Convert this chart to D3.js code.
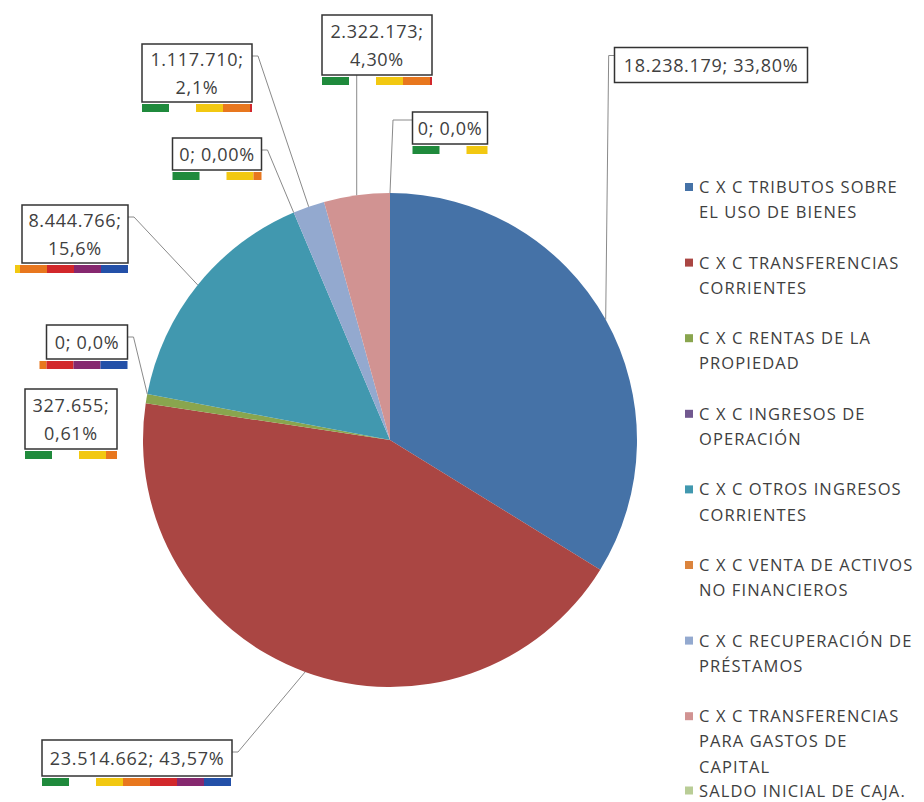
<!DOCTYPE html>
<html>
<head>
<meta charset="utf-8">
<script src="https://cdn.jsdelivr.net/npm/d3@7"></script>
<style>
body { margin: 0; background: #fff; }
text { font-family: "Open Sans", sans-serif; fill: #404040; }
</style>
</head>
<body>
<svg id="pie-chart" width="924" height="802"></svg>
<script>
// legend names, broken where the chart breaks them
const categories = [
    "C X C TRIBUTOS SOBRE\nEL USO DE BIENES",
    "C X C TRANSFERENCIAS\nCORRIENTES",
    "C X C RENTAS DE LA\nPROPIEDAD",
    "C X C INGRESOS DE\nOPERACIÓN",
    "C X C OTROS INGRESOS\nCORRIENTES",
    "C X C VENTA DE ACTIVOS\nNO FINANCIEROS",
    "C X C RECUPERACIÓN DE\nPRÉSTAMOS",
    "C X C TRANSFERENCIAS\nPARA GASTOS DE\nCAPITAL",
    "SALDO INICIAL DE CAJA."
];
const values = [18238179, 23514662, 327655, 0, 8444766, 0, 1117710, 2322173, 0];
const pctLabels = ["33,80%", "43,57%", "0,61%", "0,0%", "15,6%", "0,00%", "2,1%", "4,30%", "0,0%"];
const colors = ["#4572A7", "#AA4643", "#89A54E", "#71588F", "#4198AF", "#DB843D", "#93A9CF", "#D19392", "#B9CD96"];

const width = 924, height = 802;
const cx = 390, cy = 440, radius = 247;

// where Excel put each data label box (centre, size), how it breaks, where the leader leaves
const labelLayout = [
    {x: 711, y: 65, w: 193, h: 35, wrap: false, leader: "left", strip: "none"},
    {x: 137, y: 758, w: 190, h: 36, wrap: false, leader: "right", strip: "left"},
    {x: 71, y: 419, w: 92, h: 60, wrap: true, leader: "none", strip: "left"},
    {x: 87, y: 342, w: 81, h: 34, wrap: false, leader: "right", strip: "right"},
    {x: 75, y: 234, w: 106, h: 58, wrap: true, leader: "right", strip: "right"},
    {x: 217, y: 154, w: 89, h: 32, wrap: false, leader: "right", strip: "left"},
    {x: 197, y: 73, w: 110, h: 58, wrap: true, leader: "right", strip: "left"},
    {x: 377, y: 45, w: 110, h: 60, wrap: true, leader: "bottom", strip: "left"},
    {x: 450, y: 128, w: 75, h: 32, wrap: false, leader: "left", strip: "left"}
];
const stripColors = ["#1F8A3C", null, "#F2C811", "#E8771E", "#D2282B", "#86286F", "#2350A8"];

const fmt = d3.formatLocale({decimal: ",", thousands: ".", grouping: [3], currency: ["", ""]}).format(",d");

const svg = d3.select("#pie-chart");
const g = svg.append("g").attr("transform", `translate(${cx},${cy})`);

const pie = d3.pie().sort(null).value(d => d);
const arcs = pie(values);
const arc = d3.arc().innerRadius(0).outerRadius(radius);

g.selectAll("path.slice")
    .data(arcs)
    .join("path")
    .attr("class", "slice")
    .attr("fill", (d, i) => colors[i])
    .attr("d", arc);

// leader lines
const edgePoint = d => {
    const a = (d.startAngle + d.endAngle) / 2;
    return [cx + radius * Math.sin(a), cy - radius * Math.cos(a)];
};
arcs.forEach((d, i) => {
    const L = labelLayout[i];
    if (L.leader === "none") return;
    const p = edgePoint(d);
    let pts;
    if (L.leader === "left") {
        const ax = L.x - L.w / 2, ay = L.y - L.h / 2 + 8;
        pts = [[ax, ay], [p[0] + 3, ay], p];
    } else if (L.leader === "right") {
        const ax = L.x + L.w / 2, ay = L.y - L.h / 2 + 12;
        pts = [[ax, ay], [ax + 6, ay], p];
    } else {
        pts = [[p[0], L.y + L.h / 2], p];
    }
    svg.append("path")
        .attr("d", d3.line()(pts))
        .attr("fill", "none")
        .attr("stroke", "#8a8a8a")
        .attr("stroke-width", 1);
});

// data label boxes
const labels = svg.append("g");
arcs.forEach((d, i) => {
    const L = labelLayout[i];
    const x0 = L.x - L.w / 2, y0 = L.y - L.h / 2;
    const lb = labels.append("g");
    // coloured underline strip
    const slot = 27;
    if (L.strip === "left") {
        stripColors.forEach((c, k) => {
            if (!c) return;
            const sx = x0 + k * slot;
            const ex = Math.min(sx + slot, x0 + L.w);
            if (ex <= sx) return;
            lb.append("rect").attr("x", sx).attr("y", y0 + L.h + 2)
                .attr("width", ex - sx).attr("height", 8).attr("fill", c);
        });
    } else if (L.strip === "right") {
        stripColors.forEach((c, k) => {
            if (!c) return;
            const ex = x0 + L.w - (6 - k) * slot;
            const sx = Math.max(ex - slot, x0 - 7);
            if (ex <= sx) return;
            lb.append("rect").attr("x", sx).attr("y", y0 + L.h + 2)
                .attr("width", ex - sx).attr("height", 8).attr("fill", c);
        });
    }
    lb.append("rect")
        .attr("x", x0).attr("y", y0).attr("width", L.w).attr("height", L.h)
        .attr("fill", "#fff").attr("stroke", "#333").attr("stroke-width", 1.5);
    const lines = L.wrap ? [fmt(values[i]) + ";", pctLabels[i]] : [fmt(values[i]) + "; " + pctLabels[i]];
    const t = lb.append("text")
        .attr("text-anchor", "middle")
        .attr("font-size", 18)
        .attr("letter-spacing", 0.7);
    lines.forEach((s, k) => {
        t.append("tspan")
            .attr("x", L.x)
            .attr("y", L.y + 6.5 + (k - (lines.length - 1) / 2) * 28)
            .text(s);
    });
});

// legend (last entry is squeezed against the bottom edge, as in the original)
const legend = svg.append("g").attr("transform", "translate(685,185)");
const item = legend.selectAll("g")
    .data(categories)
    .join("g")
    .attr("transform", (d, i) => `translate(0,${Math.min(i * 75.6, 603.5)})`);
item.append("rect")
    .attr("x", 0).attr("y", -2)
    .attr("width", 8).attr("height", 8)
    .attr("fill", (d, i) => colors[i]);
item.append("text")
    .attr("font-size", 16.5)
    .attr("letter-spacing", 1.1)
    .each(function(d) {
        d.split("\n").forEach((s, k) => {
            d3.select(this).append("tspan")
                .attr("x", 14).attr("y", 8 + k * 25.2)
                .text(s);
        });
    });
</script>
</body>
</html>
